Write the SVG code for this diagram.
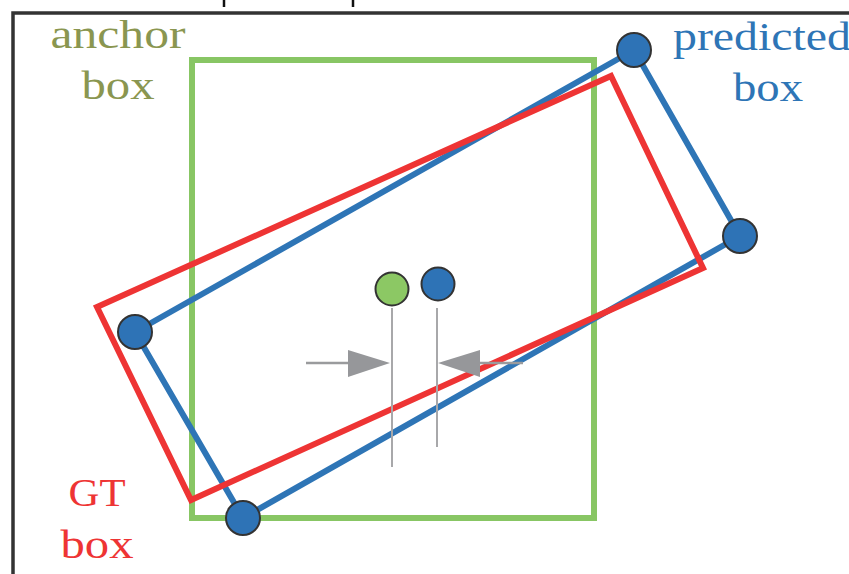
<svg xmlns="http://www.w3.org/2000/svg" width="849" height="574" viewBox="0 0 849 574">
<defs>
<style>
.lbl{font-family:"Liberation Serif","DejaVu Serif",serif;font-size:41px;text-anchor:middle}
.corner{fill:#2e73b6;stroke:#333;stroke-width:2}
.guide{stroke:#a8a8aa;stroke-width:2;fill:none}
.arr{stroke:#9a9b9d;stroke-width:2.5;fill:none}
.head{fill:#96979a}
</style>
</defs>
<rect width="849" height="574" fill="#fff"/>
<g id="frame">
<path d="M13 580 V13 H860" fill="none" stroke="#333" stroke-width="3.5"/>
<line x1="224" y1="0" x2="224" y2="7" stroke="#111" stroke-width="2.5"/>
<line x1="353" y1="0" x2="353" y2="7" stroke="#111" stroke-width="2.5"/>
</g>
<g id="anchor-box">
<rect x="192" y="60" width="402" height="458" fill="none" stroke="#88c664" stroke-width="6"/>
</g>
<g id="predicted-box">
<polygon points="634,50 740,236 243,518 135,332" fill="none" stroke="#2e75b6" stroke-width="6" stroke-linejoin="round"/>
</g>
<g id="gt-box">
<polygon points="97,307 611,76 703,268 191,500" fill="none" stroke="#ee3434" stroke-width="6" stroke-linejoin="miter"/>
</g>
<g id="corners">
<circle class="corner" cx="634" cy="50" r="17"/>
<circle class="corner" cx="740" cy="236" r="17"/>
<circle class="corner" cx="243" cy="518" r="17"/>
<circle class="corner" cx="135" cy="332" r="17"/>
</g>
<g id="centers">
<circle cx="392" cy="289" r="16.5" fill="#8cc864" stroke="#333" stroke-width="2"/>
<circle cx="438" cy="284" r="16.5" fill="#2e73b6" stroke="#333" stroke-width="2"/>
</g>
<g id="connectors">
<line class="guide" x1="392" y1="308" x2="392" y2="467"/>
<line class="guide" x1="437" y1="308" x2="437" y2="447"/>
<line class="arr" x1="306" y1="363" x2="350" y2="363"/>
<polygon class="head" points="348,350 390,363 348,377"/>
<line class="arr" x1="478" y1="363" x2="523" y2="363"/>
<polygon class="head" points="480,350 438,363 480,377"/>
</g>
<g id="labels">
<text class="lbl" x="118" y="48" fill="#8a9650" textLength="135" lengthAdjust="spacingAndGlyphs">anchor</text>
<text class="lbl" x="118" y="99" fill="#8a9650" textLength="73" lengthAdjust="spacingAndGlyphs">box</text>
<text class="lbl" x="762" y="50" fill="#2e75b6" textLength="178" lengthAdjust="spacingAndGlyphs">predicted</text>
<text class="lbl" x="768" y="101" fill="#2e75b6" textLength="70" lengthAdjust="spacingAndGlyphs">box</text>
<text class="lbl" x="97" y="506" fill="#ee3434" textLength="57" lengthAdjust="spacingAndGlyphs">GT</text>
<text class="lbl" x="97" y="558" fill="#ee3434" textLength="73" lengthAdjust="spacingAndGlyphs">box</text>
</g>
</svg>
